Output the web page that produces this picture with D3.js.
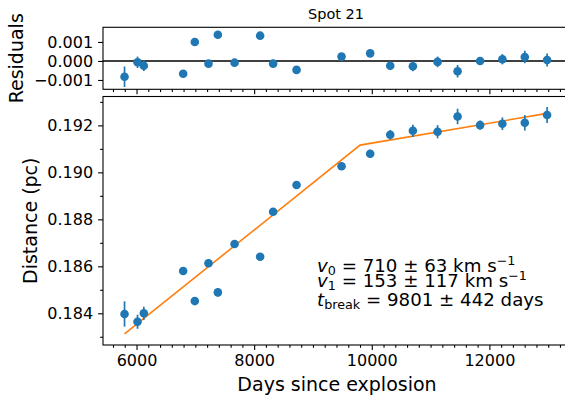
<!DOCTYPE html>
<html><head><meta charset="utf-8">
<script src="https://cdn.jsdelivr.net/npm/d3@7"></script>
<style>body{margin:0;background:#fff} text{font-family:"DejaVu Sans",sans-serif}</style>
</head><body><svg id="c" width="565" height="401" xmlns="http://www.w3.org/2000/svg"></svg>
<script>
// ---- data ----
const days      = [5796, 6017, 6124, 6793, 6991, 7224, 7383, 7667, 8102, 8323, 8721, 9486, 9973, 10314, 10699, 11119, 11459, 11842, 12221, 12602, 12981];
const distance  = [0.18397, 0.18364, 0.18400, 0.18580, 0.18452, 0.18613, 0.18489, 0.18695, 0.18641, 0.18832, 0.18946, 0.19026, 0.19079, 0.19160, 0.19177, 0.19173, 0.19238, 0.19201, 0.19207, 0.19211, 0.19244];
const distErr   = [0.00054, 0.00030, 0.00028, 0.00010, 0.00010, 0.00010, 0.00017, 0.00010, 0.00010, 0.00010, 0.00010, 0.00012, 0.00017, 0.00020, 0.00026, 0.00028, 0.00033, 0.00020, 0.00027, 0.00033, 0.00034];
const residuals = [-0.00083, -0.00007, -0.00025, -0.00067, 0.00100, -0.00014, 0.00138, -0.00009, 0.00133, -0.00014, -0.00047, 0.00023, 0.00040, -0.00025, -0.00028, -0.00005, -0.00054, 0.00000, 0.00009, 0.00021, 0.00005];
const fitDays   = [5796, 9801, 12981];
const fitDist   = [0.18312, 0.19116, 0.19251];
const xTicks    = [6000, 8000, 10000, 12000];
const distTicks = [0.184, 0.186, 0.188, 0.190, 0.192];
const resTicks  = [-0.001, 0.000, 0.001];
const title = "Spot 21";

const blue = "#1f77b4", orange = "#ff7f0e";
const svg = d3.select("#c");

const L = 103, R = 568.2;
const x = d3.scaleLinear().domain([5430, 13340]).range([L, R]);
const xMinor = d3.range(5600, 13400, 200).filter(d => d % 2000 !== 0);

const topP = {t: 27.3, b: 89.3};
const botP = {t: 96.5, b: 345};
const yR = d3.scaleLinear().domain([-0.00149, 0.00177]).range([topP.b, topP.t]);
const yD = d3.scaleLinear().domain([0.18265, 0.19323]).range([botP.b, botP.t]);
const dMinor = [0.183, 0.185, 0.187, 0.189, 0.191, 0.193];

function styleAxis(g, fs) {
  g.select(".domain").remove();
  g.selectAll(".tick line").attr("stroke", "#000").attr("stroke-width", 1.1);
  g.selectAll(".tick text").attr("font-size", fs).attr("fill", "#000").attr("font-family", "DejaVu Sans");
}

function spines(p) {
  svg.append("rect").attr("x", L).attr("y", p.t).attr("width", R - L).attr("height", p.b - p.t)
    .attr("fill", "none").attr("stroke", "#000").attr("stroke-width", 1.1);
}

// ---- top panel ----
svg.append("line").attr("x1", L).attr("x2", R).attr("y1", yR(0)).attr("y2", yR(0))
  .attr("stroke", "#000").attr("stroke-width", 1.6);

svg.append("g").selectAll("line").data(days).join("line")
  .attr("x1", (d) => x(d)).attr("x2", (d) => x(d))
  .attr("y1", (d, i) => yR(residuals[i] - distErr[i])).attr("y2", (d, i) => yR(residuals[i] + distErr[i]))
  .attr("stroke", blue).attr("stroke-width", 1.7);
svg.append("g").selectAll("circle").data(days).join("circle")
  .attr("cx", d => x(d)).attr("cy", (d, i) => yR(residuals[i])).attr("r", 4.3).attr("fill", blue);

spines(topP);
svg.append("g").attr("transform", `translate(${L},0)`)
  .call(d3.axisLeft(yR).tickValues(resTicks).tickSize(4.9).tickPadding(5).tickFormat(d3.format(".3f")))
  .call(g => styleAxis(g, 16));
svg.append("g").attr("transform", `translate(0,${topP.b})`)
  .call(d3.axisBottom(x).tickValues(xTicks).tickSize(4.9).tickFormat(""))
  .call(g => styleAxis(g, 16));
svg.append("g").attr("transform", `translate(0,${topP.b})`)
  .call(d3.axisBottom(x).tickValues(xMinor).tickSize(2.8).tickFormat(""))
  .call(g => styleAxis(g, 16));

svg.append("text").attr("x", (L + 565) / 2 + 2).attr("y", topP.t - 8).attr("text-anchor", "middle")
  .attr("font-size", 14.5).text(title);
svg.append("text").attr("transform", `translate(23,${(topP.t + topP.b) / 2}) rotate(-90)`)
  .attr("text-anchor", "middle").attr("font-size", 19).text("Residuals");

// ---- bottom panel ----
svg.append("path").datum(fitDays)
  .attr("d", d3.line().x(d => x(d)).y((d, i) => yD(fitDist[i])))
  .attr("fill", "none").attr("stroke", orange).attr("stroke-width", 1.6);

svg.append("g").selectAll("line").data(days).join("line")
  .attr("x1", d => x(d)).attr("x2", d => x(d))
  .attr("y1", (d, i) => yD(distance[i] - distErr[i])).attr("y2", (d, i) => yD(distance[i] + distErr[i]))
  .attr("stroke", blue).attr("stroke-width", 1.7);
svg.append("g").selectAll("circle").data(days).join("circle")
  .attr("cx", d => x(d)).attr("cy", (d, i) => yD(distance[i])).attr("r", 4.3).attr("fill", blue);

spines(botP);
svg.append("g").attr("transform", `translate(${L},0)`)
  .call(d3.axisLeft(yD).tickValues(distTicks).tickSize(4.9).tickPadding(5).tickFormat(d3.format(".3f")))
  .call(g => styleAxis(g, 16));
svg.append("g").attr("transform", `translate(${L},0)`)
  .call(d3.axisLeft(yD).tickValues(dMinor).tickSize(2.8).tickFormat(""))
  .call(g => styleAxis(g, 16));
svg.append("g").attr("transform", `translate(0,${botP.b})`)
  .call(d3.axisBottom(x).tickValues(xTicks).tickSize(4.9).tickPadding(5).tickFormat(d3.format("d")))
  .call(g => styleAxis(g, 16));
svg.append("g").attr("transform", `translate(0,${botP.b})`)
  .call(d3.axisBottom(x).tickValues(xMinor).tickSize(2.8).tickFormat(""))
  .call(g => styleAxis(g, 16));

svg.append("text").attr("x", (L + 565) / 2 + 3).attr("y", 391).attr("text-anchor", "middle")
  .attr("font-size", 19).text("Days since explosion");
svg.append("text").attr("transform", `translate(37,${(botP.t + botP.b) / 2}) rotate(-90)`)
  .attr("text-anchor", "middle").attr("font-size", 19).text("Distance (pc)");

// ---- annotation ----
const fs = 18.2;
function mathLine(y, parts) {
  const t = svg.append("text").attr("x", 317).attr("y", y).attr("font-size", fs);
  parts.forEach(p => {
    const s = t.append("tspan").text(p.t);
    if (p.it) s.attr("font-style", "italic");
    if (p.sub) s.attr("font-size", fs * 0.7).attr("dy", fs * 0.18);
    if (p.sup) s.attr("font-size", fs * 0.7).attr("dy", -fs * 0.38);
    if (p.back) s.attr("dy", p.back);
  });
}
mathLine(271.5, [{t: "v", it: true}, {t: "0", sub: true}, {t: " = 710 ± 63 km s", back: -fs * 0.18}, {t: "−1", sup: true}]);
mathLine(286.5, [{t: "v", it: true}, {t: "1", sub: true}, {t: " = 153 ± 117 km s", back: -fs * 0.18}, {t: "−1", sup: true}]);
mathLine(305.5, [{t: "t", it: true}, {t: "break", sub: true}, {t: " = 9801 ± 442 days", back: -fs * 0.18}]);
</script></body></html>
